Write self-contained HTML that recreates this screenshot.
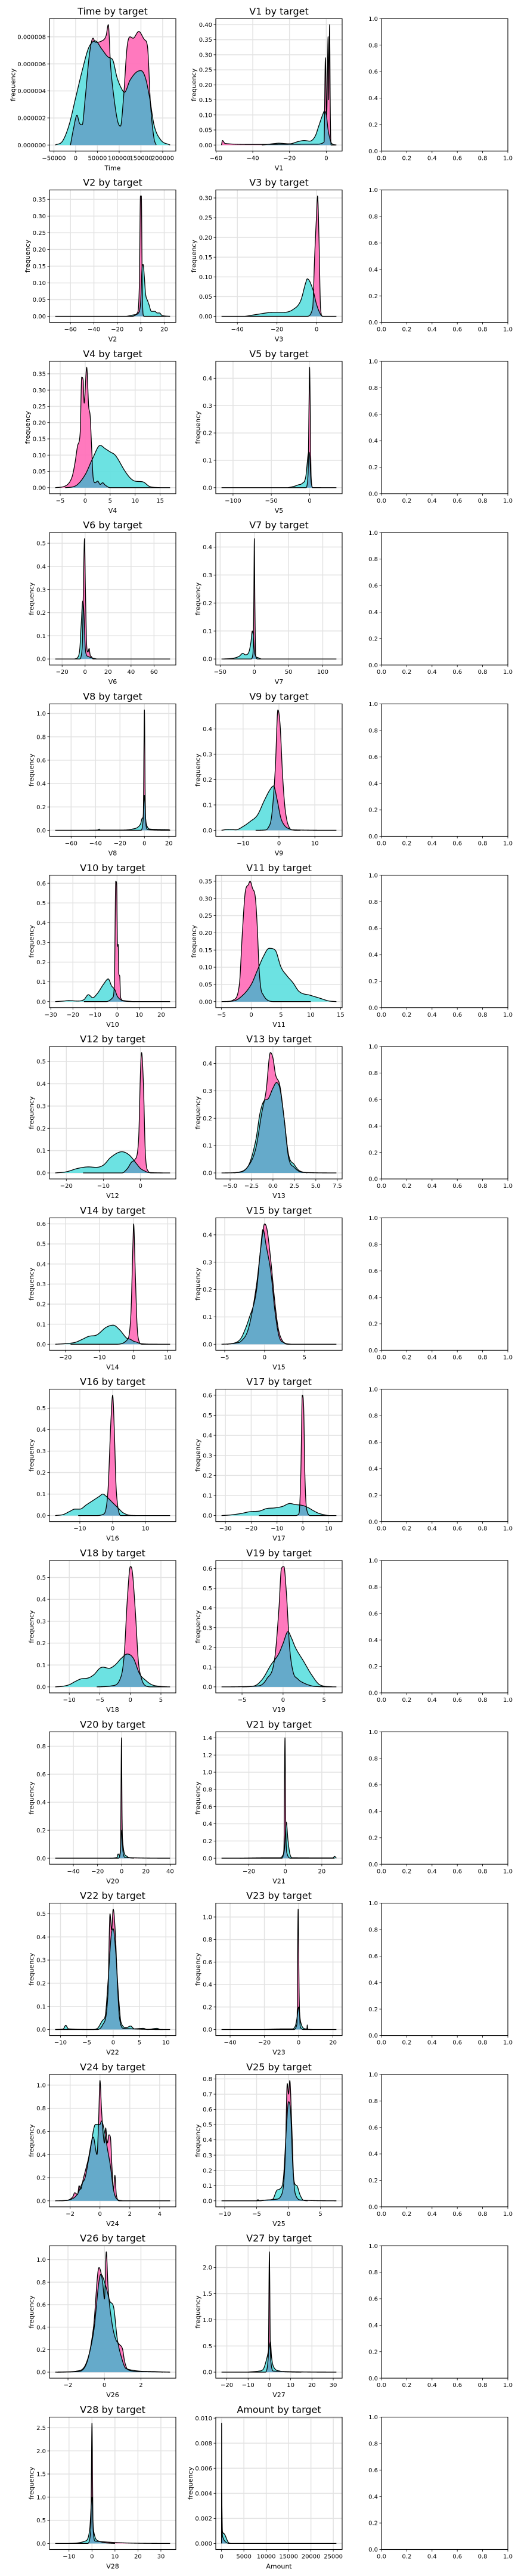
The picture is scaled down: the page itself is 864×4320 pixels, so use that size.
<!DOCTYPE html>
<html><head><meta charset="utf-8"><title>Feature distributions by target</title>
<style>
html,body{margin:0;padding:0;background:#fff;}
svg{display:block;font-family:"DejaVu Sans","Liberation Sans",sans-serif;}
</style></head>
<body>
<svg id="fig" width="864" height="4320" viewBox="0 0 864 4320" xmlns="http://www.w3.org/2000/svg"></svg>
<script>
const features = ['Time','V1','V2','V3','V4','V5','V6','V7','V8','V9','V10','V11','V12','V13','V14','V15','V16','V17','V18','V19','V20','V21','V22','V23','V24','V25','V26','V27','V28','Amount'];

const xTicks = [
 [-50000,0,50000,100000,150000,200000],[-60,-40,-20,0],[-60,-40,-20,0,20],[-40,-20,0],[-5,0,5,10,15],[-100,-50,0],
 [-20,0,20,40,60],[-50,0,50,100],[-60,-40,-20,0,20],[-10,0,10],[-30,-20,-10,0,10,20],[-5,0,5,10,15],
 [-20,-10,0],[-5,-2.5,0,2.5,5,7.5],[-20,-10,0,10],[-5,0,5],[-10,0,10],[-30,-20,-10,0,10],
 [-10,-5,0,5],[-5,0,5],[-40,-20,0,20,40],[-20,0,20],[-10,-5,0,5,10],[-40,-20,0,20],
 [-2,0,2,4],[-10,-5,0,5],[-2,0,2],[-20,-10,0,10,20,30],[-10,0,10,20,30],[0,5000,10000,15000,20000,25000]
];

const yTicks = [
 [0,0.000002,0.000004,0.000006,0.000008],[0,0.05,0.1,0.15,0.2,0.25,0.3,0.35,0.4],[0,0.05,0.1,0.15,0.2,0.25,0.3,0.35],
 [0,0.05,0.1,0.15,0.2,0.25,0.3],[0,0.05,0.1,0.15,0.2,0.25,0.3,0.35],[0,0.1,0.2,0.3,0.4],
 [0,0.1,0.2,0.3,0.4,0.5],[0,0.1,0.2,0.3,0.4],[0,0.2,0.4,0.6,0.8,1.0],[0,0.1,0.2,0.3,0.4],
 [0,0.1,0.2,0.3,0.4,0.5,0.6],[0,0.05,0.1,0.15,0.2,0.25,0.3,0.35],[0,0.1,0.2,0.3,0.4,0.5],
 [0,0.1,0.2,0.3,0.4],[0,0.1,0.2,0.3,0.4,0.5,0.6],[0,0.1,0.2,0.3,0.4],[0,0.1,0.2,0.3,0.4,0.5],
 [0,0.1,0.2,0.3,0.4,0.5,0.6],[0,0.1,0.2,0.3,0.4,0.5],[0,0.1,0.2,0.3,0.4,0.5,0.6],[0,0.2,0.4,0.6,0.8],
 [0,0.2,0.4,0.6,0.8,1.0,1.2,1.4],[0,0.1,0.2,0.3,0.4,0.5],[0,0.2,0.4,0.6,0.8,1.0],[0,0.2,0.4,0.6,0.8,1.0],
 [0,0.1,0.2,0.3,0.4,0.5,0.6,0.7,0.8],[0,0.2,0.4,0.6,0.8,1.0],[0,0.5,1.0,1.5,2.0],[0,0.5,1.0,1.5,2.0,2.5],
 [0,0.002,0.004,0.006,0.008,0.010]
];

const pinkDensity = [
 [[-12000,0],[-5000,0.0000012],[3000,0.0000022],[9000,0.0000016],[15000,0.0000015],[22000,0.0000035],[32000,0.0000068],[40000,0.0000079],[45000,0.0000076],[60000,0.0000077],[70000,0.0000081],[75000,0.0000089],[80000,0.000006],[88000,0.0000035],[97000,0.0000017],[103000,0.0000014],[110000,0.0000035],[118000,0.0000072],[125000,0.000008],[132000,0.0000079],[145000,0.0000084],[158000,0.0000078],[165000,0.0000073],[172000,0.000003],[180000,0.0000005],[185000,0]],
 [[-57,0],[-56.5,0.015],[-55,0.005],[-40,0.002],[-5,0.003],[-1.2,0.01],[-0.5,0.29],[0.2,0.1],[1,0.36],[1.3,0.15],[1.8,0.4],[2.2,0.1],[2.6,0],[5,0]],
 [[-73,0],[-8,0],[-3,0.01],[-1.2,0.1],[-0.3,0.36],[0.5,0.36],[1.2,0.1],[2,0.005],[3,0],[22,0]],
 [[-48,0],[-5,0],[-2,0.02],[-1,0.15],[0,0.26],[0.5,0.305],[1.2,0.2],[2,0.02],[3,0],[10,0]],
 [[-6,0],[-4,0.005],[-3,0.02],[-2.5,0.04],[-2,0.08],[-1.5,0.13],[-1,0.17],[-0.7,0.34],[-0.4,0.33],[-0.2,0.26],[0.3,0.37],[0.7,0.25],[1,0.22],[1.3,0.12],[1.6,0.03],[2,0.015],[2.5,0.02],[3,0.01],[3.5,0.015],[4,0.008],[5,0],[17,0]],
 [[-115,0],[-5,0],[-2,0.05],[-0.8,0.3],[0,0.44],[0.8,0.3],[2,0.04],[4,0],[35,0]],
 [[-26,0],[-5,0],[-2.5,0.05],[-1.5,0.3],[-0.5,0.52],[0.3,0.3],[1.5,0.05],[2.5,0.03],[3.5,0.045],[4.5,0.015],[5.5,0.01],[7,0],[74,0]],
 [[-48,0],[-5,0],[-2,0.02],[-0.8,0.2],[0,0.43],[0.8,0.2],[2,0.01],[5,0],[120,0]],
 [[-73,0],[-3,0],[-1,0.1],[0,1.03],[0.6,0.3],[1.5,0.03],[3,0.005],[21,0]],
 [[-6.5,0],[-4,0.001],[-3,0.01],[-2,0.06],[-1,0.25],[-0.3,0.475],[0.3,0.42],[1,0.22],[1.6,0.1],[2.2,0.04],[2.6,0.02],[3.5,0.002],[16,0]],
 [[-15,0],[-5,0],[-2,0.02],[-1.2,0.1],[-0.6,0.61],[-0.2,0.6],[0.2,0.28],[0.5,0.29],[0.8,0.14],[1.2,0.13],[1.6,0.02],[3,0.005],[8,0],[24,0]],
 [[-4,0],[-3,0.005],[-2,0.05],[-1.5,0.2],[-1,0.32],[-0.5,0.34],[-0.2,0.35],[0.2,0.33],[0.7,0.3],[1,0.22],[1.3,0.1],[1.6,0.04],[2,0.02],[3,0.002],[4,0],[10,0]],
 [[-15.5,0],[-5,0],[-3.5,0.02],[-2.3,0.05],[-1.5,0.06],[-0.5,0.15],[0,0.45],[0.3,0.54],[0.8,0.4],[1.3,0.1],[2,0.01],[3,0],[8,0]],
 [[-6,0],[-4,0.002],[-3,0.02],[-2,0.09],[-1.3,0.22],[-0.8,0.3],[-0.3,0.44],[0,0.42],[0.3,0.36],[0.8,0.32],[1.3,0.2],[1.8,0.06],[2.5,0.02],[3.5,0.002],[7.4,0]],
 [[-18.5,0],[-5,0],[-2,0.02],[-0.8,0.15],[-0.2,0.5],[0,0.6],[0.5,0.35],[1,0.1],[1.5,0.02],[2.5,0],[10.7,0]],
 [[-4.7,0],[-3.5,0.005],[-3,0.01],[-2,0.06],[-1,0.22],[-0.4,0.37],[0,0.44],[0.3,0.42],[0.8,0.3],[1.3,0.15],[1.7,0.06],[2.3,0.01],[3,0],[9,0]],
 [[-10.5,0],[-5,0],[-3,0.005],[-1.5,0.1],[-0.5,0.45],[0,0.56],[0.5,0.4],[1,0.15],[1.5,0.05],[2,0.01],[2.5,0],[17.5,0]],
 [[-17,0],[-3,0],[-1.5,0.01],[-0.8,0.2],[-0.2,0.6],[0.3,0.55],[0.8,0.2],[1.5,0.03],[3,0],[13,0]],
 [[-5.5,0],[-3,0.005],[-1.5,0.05],[-1,0.15],[-0.5,0.4],[0,0.55],[0.3,0.53],[0.8,0.35],[1.3,0.12],[1.8,0.04],[2.5,0.005],[3.5,0],[6.5,0]],
 [[-7.5,0],[-3,0.005],[-2,0.04],[-1,0.15],[-0.5,0.4],[-0.2,0.6],[0.1,0.61],[0.4,0.48],[0.8,0.2],[1.2,0.08],[1.8,0.04],[2.5,0.02],[4,0.002],[6.5,0]],
 [[-55,0],[-3,0],[-1,0.05],[-0.2,0.86],[0.3,0.3],[1,0.05],[3,0.005],[40,0]],
 [[-35,0],[-2,0],[-0.8,0.1],[-0.2,1.4],[0.3,0.3],[1,0.05],[3,0],[27,0]],
 [[-11,0],[-3,0],[-2,0.02],[-1,0.15],[-0.6,0.5],[-0.3,0.43],[0,0.52],[0.4,0.42],[0.8,0.2],[1.2,0.05],[2,0.005],[10.8,0]],
 [[-45,0],[-3,0],[-1,0.05],[-0.3,1.07],[0.3,0.3],[1,0.02],[3,0],[22,0]],
 [[-3,0],[-2.2,0.005],[-1.8,0.04],[-1.7,0.07],[-1.5,0.055],[-1.4,0.13],[-1.3,0.1],[-1.1,0.2],[-0.8,0.35],[-0.45,0.55],[-0.2,0.4],[-0.1,0.65],[0,1.04],[0.1,0.8],[0.2,0.6],[0.3,0.5],[0.38,0.63],[0.5,0.5],[0.6,0.57],[0.7,0.55],[0.8,0.3],[0.9,0.1],[1,0.22],[1.1,0.05],[1.3,0],[4.7,0]],
 [[-10.5,0],[-5,0],[-3.5,0.005],[-2,0.01],[-1,0.05],[-0.5,0.3],[-0.2,0.77],[0,0.7],[0.2,0.79],[0.5,0.5],[0.8,0.15],[1.2,0.03],[2,0.005],[7.5,0]],
 [[-2.7,0],[-1.5,0.005],[-1,0.07],[-0.6,0.4],[-0.3,0.93],[-0.1,0.8],[0,0.65],[0.1,1.07],[0.2,0.75],[0.4,0.45],[0.6,0.3],[0.8,0.25],[1,0.2],[1.1,0.1],[1.3,0.02],[2,0.005],[3.6,0]],
 [[-22.5,0],[-2,0],[-0.5,0.3],[0,2.3],[0.5,0.3],[2,0.02],[31.5,0]],
 [[-16,0],[-2,0],[-0.5,0.3],[0,2.6],[0.5,0.3],[1.5,0.05],[34,0]],
 [[0,0],[20,0.0096],[80,0.002],[300,0.0005],[1000,0.0001],[2000,0],[25700,0]]
];

const cyanDensity = [
 [[-47000,0],[-30000,0.0000003],[-15000,0.0000015],[0,0.0000035],[15000,0.0000055],[30000,0.0000072],[45000,0.0000077],[60000,0.0000071],[75000,0.0000065],[85000,0.0000063],[95000,0.000005],[105000,0.0000042],[112000,0.0000039],[125000,0.0000048],[140000,0.0000054],[150000,0.0000055],[160000,0.000005],[170000,0.0000035],[180000,0.0000015],[195000,0.0000004],[217000,0]],
 [[-35,0],[-28,0.005],[-26,0.006],[-20,0.004],[-15,0.012],[-12,0.015],[-9,0.013],[-6,0.03],[-4,0.065],[-2,0.1],[-1,0.113],[0,0.1],[1,0.05],[2,0.02],[3,0.005],[5.5,0]],
 [[-12,0],[-5,0.005],[-2,0.01],[0,0.05],[1,0.14],[2,0.155],[3,0.12],[4,0.07],[6,0.045],[7,0.035],[9,0.015],[12,0.015],[14,0.01],[16,0.01],[18,0.003],[25,0]],
 [[-36,0],[-30,0.005],[-22,0.01],[-17,0.01],[-12,0.017],[-8,0.04],[-5.5,0.085],[-4.7,0.095],[-2,0.07],[0,0.03],[2,0.005],[3,0]],
 [[-4,0],[-2,0.005],[0,0.04],[1.5,0.09],[3,0.13],[4,0.12],[5,0.11],[6,0.1],[8,0.05],[9,0.03],[10,0.02],[11.5,0.018],[13,0.003],[15,0]],
 [[-28,0],[-20,0.005],[-15,0.01],[-10,0.015],[-5,0.04],[-2,0.12],[-1,0.13],[0,0.12],[2,0.02],[5,0],[15,0]],
 [[-9,0],[-6,0.01],[-4.5,0.05],[-3.5,0.14],[-2,0.25],[-1,0.2],[0,0.06],[1,0.02],[3,0.01],[6,0.005],[10,0]],
 [[-45,0],[-30,0.003],[-22,0.01],[-17,0.02],[-13,0.015],[-8,0.025],[-5,0.06],[-3,0.1],[-1.5,0.08],[0,0.03],[2,0.01],[5,0.005],[10,0]],
 [[-45,0],[-38,0.003],[-37,0.01],[-36,0.002],[-20,0.002],[-10,0.01],[-5,0.03],[-3,0.06],[-2,0.1],[-1,0.12],[0,0.3],[1,0.1],[2,0.04],[5,0.01],[20,0.005],[21,0]],
 [[-16,0],[-14,0.004],[-12,0.002],[-10,0.015],[-8,0.035],[-6,0.06],[-4,0.12],[-2.5,0.16],[-1.5,0.175],[-0.5,0.12],[0.5,0.05],[1.5,0.02],[3,0.005],[5,0],[6,0]],
 [[-28,0],[-24,0.003],[-22,0.005],[-18,0.003],[-15,0.01],[-13,0.035],[-11,0.02],[-9,0.04],[-6,0.09],[-4,0.115],[-2.5,0.08],[-1,0.06],[0,0.03],[1,0.015],[3,0.003],[8,0]],
 [[-5,0],[-3,0.002],[-2,0.01],[0,0.05],[1,0.09],[2,0.13],[3,0.155],[4,0.15],[5,0.1],[6,0.075],[7,0.055],[8,0.03],[10,0.018],[11.5,0.01],[13,0.002],[14.3,0]],
 [[-23,0],[-20,0.005],[-17,0.02],[-14,0.027],[-12,0.025],[-10,0.035],[-8,0.07],[-5,0.095],[-3,0.08],[-1,0.04],[0,0.02],[1,0.01],[2,0.003],[6,0]],
 [[-4.5,0],[-3,0.02],[-2,0.12],[-1.5,0.22],[-1,0.265],[-0.6,0.27],[0,0.31],[0.4,0.33],[0.8,0.31],[1.3,0.2],[1.8,0.07],[2.5,0.03],[3,0.01],[4,0]],
 [[-23,0],[-20,0.003],[-17,0.01],[-15,0.025],[-13,0.04],[-11,0.045],[-8,0.085],[-6,0.095],[-4,0.07],[-2,0.03],[-1,0.025],[0,0.015],[1,0.01],[2,0.003],[7,0]],
 [[-5.4,0],[-4,0.003],[-3,0.02],[-2.5,0.05],[-2,0.09],[-1,0.2],[-0.5,0.35],[-0.2,0.42],[0.2,0.36],[0.8,0.26],[1.3,0.12],[1.8,0.03],[2.5,0.005],[3.3,0]],
 [[-17.5,0],[-15,0.005],[-13,0.02],[-11.5,0.03],[-10,0.03],[-8,0.05],[-6,0.07],[-4,0.09],[-3,0.1],[-2,0.09],[0,0.06],[2,0.03],[3,0.015],[5,0.002],[7,0]],
 [[-31.5,0],[-28,0.003],[-24,0.01],[-20,0.02],[-17,0.022],[-14,0.035],[-11,0.038],[-8,0.045],[-5,0.06],[-3,0.055],[0,0.05],[2,0.04],[4,0.025],[6,0.012],[9,0.002],[10,0]],
 [[-12.3,0],[-11,0.003],[-10,0.01],[-9,0.025],[-8,0.037],[-7,0.04],[-6,0.055],[-5,0.085],[-4.5,0.09],[-3.5,0.085],[-2.5,0.1],[-1.5,0.13],[-0.5,0.15],[0.5,0.13],[1.5,0.06],[2.5,0.03],[3.5,0.01],[5,0.002],[6,0]],
 [[-5,0],[-3.5,0.005],[-2.5,0.04],[-1.5,0.11],[-0.5,0.17],[0,0.22],[0.6,0.28],[1,0.25],[1.5,0.2],[2.5,0.13],[3.5,0.06],[4.5,0.01],[6,0]],
 [[-10,0],[-4,0.005],[-3,0.03],[-2,0.02],[-1,0.06],[0,0.2],[0.5,0.15],[1,0.1],[2,0.04],[4,0.015],[6,0.005],[10,0]],
 [[-25,0],[-9,0.005],[-3,0.005],[-1.5,0.03],[-0.5,0.1],[0.5,0.42],[1.5,0.2],[2.5,0.05],[4,0.005],[26,0.003],[27,0.02],[28,0]],
 [[-11,0],[-9.5,0.002],[-9,0.018],[-8.5,0.003],[-4,0],[-3,0.005],[-2,0.04],[-1.5,0.06],[-1,0.2],[-0.3,0.42],[0,0.435],[0.5,0.33],[1,0.15],[1.5,0.03],[2.5,0.008],[3.3,0.015],[4,0.003],[5.7,0.005],[6.5,0],[8.3,0.005],[9,0],[9.5,0]],
 [[-20,0],[-10,0.005],[-4,0.005],[-2,0.03],[-1,0.1],[0,0.2],[1,0.08],[3,0.01],[4.8,0.005],[5,0.04],[5.3,0.003],[8,0]],
 [[-2.6,0],[-2,0.01],[-1.5,0.06],[-1.2,0.15],[-1,0.2],[-0.7,0.4],[-0.3,0.66],[0,0.66],[0.1,0.69],[0.3,0.6],[0.5,0.45],[0.7,0.3],[0.9,0.1],[1.1,0.02],[1.5,0]],
 [[-5,0],[-4.8,0.007],[-4.5,0],[-3.5,0.005],[-2.5,0.01],[-1.8,0.07],[-1.3,0.08],[-0.8,0.15],[-0.3,0.5],[0,0.65],[0.3,0.6],[0.7,0.2],[1,0.11],[1.3,0.1],[1.8,0.04],[2.3,0.005],[3,0]],
 [[-2.6,0],[-1.5,0.01],[-1,0.08],[-0.6,0.35],[-0.2,0.87],[0.1,0.75],[0.3,0.63],[0.5,0.58],[0.7,0.3],[0.9,0.15],[1.2,0.03],[2.7,0.005],[3.2,0]],
 [[-10,0],[-5,0.02],[-3,0.05],[-1,0.3],[0,0.5],[0.5,0.58],[1,0.3],[2,0.1],[5,0.02],[10,0.003],[15,0]],
 [[-10,0],[-3,0.05],[-1,0.3],[0,1.0],[0.5,0.4],[1,0.2],[3,0.05],[10,0]],
 [[0,0],[30,0.004],[200,0.001],[500,0.0008],[1500,0.0001],[2000,0]]
];

const emptyTicks = [0,0.2,0.4,0.6,0.8,1.0];

const NS = 'http://www.w3.org/2000/svg';
const fig = document.getElementById('fig');
const COLS = [83, 362, 640], AXW = 212, AXH = 222, ROW0 = 31.3, PITCH = 287.3;
const PINK = '#ff6eb8', CYAN = '#5fe0e0', BLUE = '#65a8c8', GRID = '#e3e3e3';

function el(tag, attrs, parent) {
  const e = document.createElementNS(NS, tag);
  for (const k in attrs) e.setAttribute(k, attrs[k]);
  (parent || fig).appendChild(e);
  return e;
}
function decimalsOf(vals) {
  for (let d = 0; d < 9; d++) {
    if (vals.every(v => Math.abs(v * Math.pow(10, d) - Math.round(v * Math.pow(10, d))) < 1e-6)) return d;
  }
  return 8;
}
function fmt(v, d) { return v.toFixed(d).replace('-', '\u2212'); }

function monotone(pts) {
  const xs = pts.map(p => p[0]), ys = pts.map(p => p[1]), n = xs.length;
  const d = [], m = [];
  for (let i = 0; i < n - 1; i++) d[i] = (ys[i + 1] - ys[i]) / (xs[i + 1] - xs[i]);
  m[0] = d[0]; m[n - 1] = d[n - 2];
  for (let i = 1; i < n - 1; i++) m[i] = d[i - 1] * d[i] <= 0 ? 0 : (d[i - 1] + d[i]) / 2;
  for (let i = 0; i < n - 1; i++) {
    if (d[i] === 0) { m[i] = 0; m[i + 1] = 0; continue; }
    const a = m[i] / d[i], b = m[i + 1] / d[i], s = a * a + b * b;
    if (s > 9) { const t = 3 / Math.sqrt(s); m[i] = t * a * d[i]; m[i + 1] = t * b * d[i]; }
  }
  return function (x) {
    if (x <= xs[0]) return ys[0];
    if (x >= xs[n - 1]) return ys[n - 1];
    let i = 0; while (i < n - 2 && x > xs[i + 1]) i++;
    const h = xs[i + 1] - xs[i], t = (x - xs[i]) / h, t2 = t * t, t3 = t2 * t;
    return (2 * t3 - 3 * t2 + 1) * ys[i] + (t3 - 2 * t2 + t) * h * m[i] + (-2 * t3 + 3 * t2) * ys[i + 1] + (t3 - t2) * h * m[i + 1];
  };
}

function axisFrame(g, L, T) {
  const r = el('rect', {x: L, y: T, width: AXW, height: AXH, fill: 'none', stroke: '#000', 'stroke-width': 1.1}, g);
  
  
}

function drawPanel(i) {
  const row = Math.floor(i / 2), col = i % 2;
  const L = COLS[col], T = ROW0 + row * PITCH, B = T + AXH, R = L + AXW;
  const pink = pinkDensity[i], cyan = cyanDensity[i];
  const all = pink.concat(cyan);
  const xmin = Math.min(...all.map(p => p[0])), xmax = Math.max(...all.map(p => p[0]));
  const ymaxData = Math.max(...all.map(p => p[1]));
  const x0 = xmin - 0.05 * (xmax - xmin), x1 = xmax + 0.05 * (xmax - xmin);
  const y0 = -0.05 * ymaxData, y1 = 1.05 * ymaxData;
  const sx = v => L + (v - x0) / (x1 - x0) * AXW;
  const sy = v => B - (v - y0) / (y1 - y0) * AXH;

  const g = el('g', {});
  
  

  // grid
  const xt = xTicks[i].filter(v => v >= x0 && v <= x1), yt = yTicks[i].filter(v => v >= y0 && v <= y1);
  const gg = el('g', {stroke: GRID, 'stroke-width': 1.5}, g);
  
  
  xt.forEach(v => el('line', {x1: sx(v), x2: sx(v), y1: T, y2: B}, gg));
  yt.forEach(v => el('line', {x1: L, x2: R, y1: sy(v), y2: sy(v)}, gg));

  // evaluate series
  const fp = monotone(pink), fc = monotone(cyan);
  const grid = [];
  for (let k = 0; k <= 1200; k++) grid.push(x0 + (x1 - x0) * k / 1200);
  const xsAll = grid.concat(pink.map(p => p[0]), cyan.map(p => p[0])).sort((a, b) => a - b);
  const pMin = pink[0][0], pMax = pink[pink.length - 1][0], cMin = cyan[0][0], cMax = cyan[cyan.length - 1][0];
  function pathFor(lo, hi, f, close) {
    const xs = xsAll.filter(x => x >= lo && x <= hi);
    let d = '';
    xs.forEach((x, k) => { d += (k ? 'L' : 'M') + sx(x).toFixed(2) + ',' + sy(Math.max(0, f(x))).toFixed(2); });
    if (close) d += 'L' + sx(hi).toFixed(2) + ',' + sy(0).toFixed(2) + 'L' + sx(lo).toFixed(2) + ',' + sy(0).toFixed(2) + 'Z';
    return d;
  }
  const clip = 'clip' + i;
  const cp = el('clipPath', {id: clip}, g);
  el('rect', {x: L, y: T, width: AXW, height: AXH}, cp);
  const dg = el('g', {'clip-path': 'url(#' + clip + ')'}, g);
  
  

  const pf = el('path', {d: pathFor(pMin, pMax, fp, true), fill: PINK, 'fill-opacity': 0.92}, dg);
  
  
  const cf = el('path', {d: pathFor(cMin, cMax, fc, true), fill: CYAN, 'fill-opacity': 0.92}, dg);
  
  
  const lo = Math.max(pMin, cMin), hi = Math.min(pMax, cMax);
  if (hi > lo) {
    const of = el('path', {d: pathFor(lo, hi, x => Math.min(fp(x), fc(x)), true), fill: BLUE, 'fill-opacity': 0.95}, dg);
    
    
  }
  const pl = el('path', {d: pathFor(pMin, pMax, fp, false), fill: 'none', stroke: '#000', 'stroke-width': 1.3, 'stroke-linejoin': 'round'}, dg);
  
  
  const cl = el('path', {d: pathFor(cMin, cMax, fc, false), fill: 'none', stroke: '#000', 'stroke-width': 1.3, 'stroke-linejoin': 'round'}, dg);
  
  

  axisFrame(g, L, T);

  // ticks
  const dx = decimalsOf(xTicks[i]), dy = decimalsOf(yTicks[i]);
  const xg = el('g', {'font-size': 10, fill: '#000', 'text-anchor': 'middle'}, g);
  
  
  xt.forEach(v => {
    el('line', {x1: sx(v), x2: sx(v), y1: B, y2: B + 3.5, stroke: '#000', 'stroke-width': 0.8}, xg);
    const t = el('text', {x: sx(v), y: B + 15}, xg);
    t.textContent = fmt(v, dx);
    
    
  });
  const yg = el('g', {'font-size': 10, fill: '#000', 'text-anchor': 'end'}, g);
  
  
  let maxW = 0;
  yt.forEach(v => {
    el('line', {x1: L - 3.5, x2: L, y1: sy(v), y2: sy(v), stroke: '#000', 'stroke-width': 0.8}, yg);
    const s = fmt(v, dy);
    const t = el('text', {x: L - 6, y: sy(v) + 3.6}, yg);
    t.textContent = s;
    
    
    maxW = Math.max(maxW, s.length * 6.2);
  });

  const title = el('text', {x: L + AXW / 2, y: T - 7, 'font-size': 16, 'text-anchor': 'middle'}, g);
  title.textContent = features[i] + ' by target';
  
  
  const xl = el('text', {x: L + AXW / 2, y: B + 32, 'font-size': 11, 'text-anchor': 'middle'}, g);
  xl.textContent = features[i];
  
  
  const yx = L - 7 - maxW - 5, yc = T + AXH / 2;
  const yl = el('text', {x: yx, y: yc, 'font-size': 11, 'text-anchor': 'middle', transform: 'rotate(-90 ' + yx + ' ' + yc + ')', dy: 4}, g);
  yl.textContent = 'frequency';
  
  
}

function drawEmpty(row) {
  const L = COLS[2], T = ROW0 + row * PITCH, B = T + AXH;
  const g = el('g', {});
  
  
  axisFrame(g, L, T);
  const tg = el('g', {'font-size': 10, fill: '#000'}, g);
  
  
  emptyTicks.forEach(v => {
    const x = L + v * AXW, y = B - v * AXH;
    el('line', {x1: x, x2: x, y1: B, y2: B + 3.5, stroke: '#000', 'stroke-width': 0.8}, tg);
    el('line', {x1: L - 3.5, x2: L, y1: y, y2: y, stroke: '#000', 'stroke-width': 0.8}, tg);
    const tx = el('text', {x: x, y: B + 15, 'text-anchor': 'middle'}, tg);
    tx.textContent = v.toFixed(1);
    
    
    const ty = el('text', {x: L - 6, y: y + 3.6, 'text-anchor': 'end'}, tg);
    ty.textContent = v.toFixed(1);
    
    
  });
}

for (let i = 0; i < features.length; i++) drawPanel(i);
for (let r = 0; r < 15; r++) drawEmpty(r);
</script>
</body></html>
